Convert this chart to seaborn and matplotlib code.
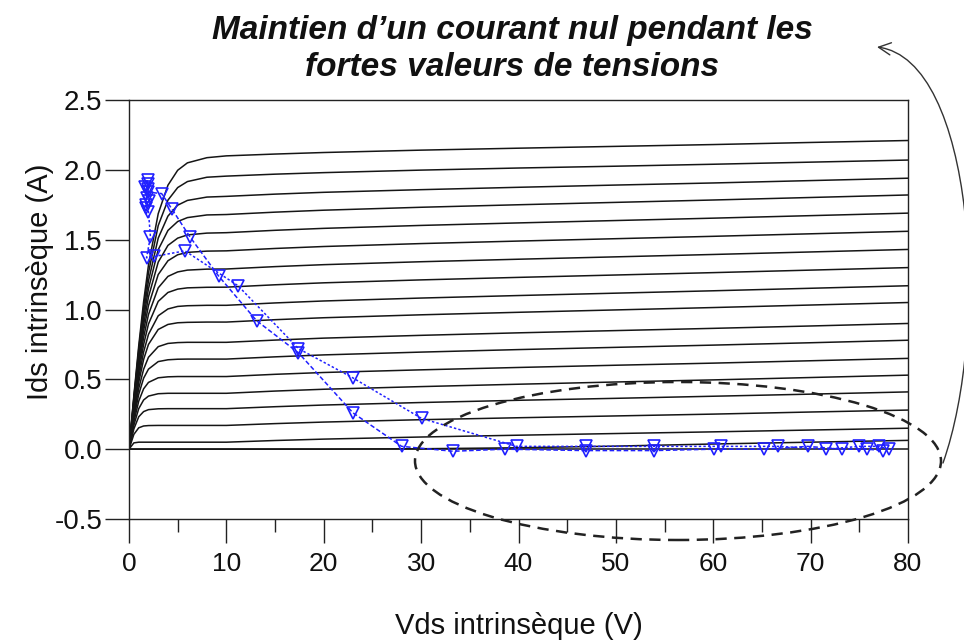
import matplotlib
matplotlib.use("Agg")
import matplotlib.pyplot as plt
import pandas as pd
import seaborn as sns
from matplotlib.patches import Ellipse, FancyArrowPatch
from matplotlib.path import Path

# ---------------- data ----------------
vds_grid = [0, 0.5, 1, 1.5, 2, 3, 4, 5, 6, 8, 10, 15, 20, 30, 40, 50, 60, 70, 80]

ids_curves = [
    [0, 0.383, 0.741, 1.056, 1.318, 1.686, 1.890, 1.997, 2.050, 2.087, 2.100, 2.113, 2.124, 2.141, 2.155, 2.168, 2.181, 2.196, 2.210],
    [0, 0.371, 0.717, 1.017, 1.263, 1.601, 1.783, 1.873, 1.916, 1.947, 1.955, 1.969, 1.980, 1.998, 2.013, 2.026, 2.040, 2.055, 2.070],
    [0, 0.358, 0.691, 0.974, 1.205, 1.511, 1.669, 1.747, 1.781, 1.805, 1.810, 1.826, 1.839, 1.858, 1.875, 1.891, 1.906, 1.923, 1.940],
    [0, 0.346, 0.664, 0.934, 1.149, 1.428, 1.566, 1.630, 1.658, 1.677, 1.680, 1.697, 1.711, 1.732, 1.750, 1.767, 1.784, 1.802, 1.820],
    [0, 0.333, 0.637, 0.891, 1.090, 1.339, 1.459, 1.511, 1.534, 1.547, 1.550, 1.567, 1.581, 1.602, 1.620, 1.637, 1.654, 1.672, 1.690],
    [0, 0.320, 0.609, 0.848, 1.028, 1.250, 1.349, 1.392, 1.409, 1.418, 1.420, 1.437, 1.451, 1.472, 1.490, 1.507, 1.524, 1.542, 1.560],
    [0, 0.306, 0.579, 0.800, 0.964, 1.155, 1.237, 1.269, 1.282, 1.289, 1.290, 1.307, 1.321, 1.342, 1.360, 1.377, 1.394, 1.412, 1.430],
    [0, 0.291, 0.548, 0.749, 0.896, 1.058, 1.122, 1.146, 1.155, 1.159, 1.160, 1.177, 1.191, 1.212, 1.230, 1.247, 1.264, 1.282, 1.300],
    [0, 0.274, 0.513, 0.695, 0.822, 0.955, 1.004, 1.022, 1.027, 1.030, 1.030, 1.047, 1.061, 1.082, 1.100, 1.117, 1.134, 1.152, 1.170],
    [0, 0.258, 0.479, 0.642, 0.750, 0.857, 0.893, 0.905, 0.908, 0.910, 0.910, 0.927, 0.941, 0.962, 0.980, 0.997, 1.014, 1.032, 1.050],
    [0, 0.239, 0.435, 0.572, 0.658, 0.734, 0.757, 0.763, 0.765, 0.765, 0.765, 0.781, 0.795, 0.815, 0.833, 0.849, 0.865, 0.882, 0.900],
    [0, 0.220, 0.393, 0.508, 0.573, 0.627, 0.640, 0.644, 0.645, 0.645, 0.645, 0.661, 0.675, 0.695, 0.713, 0.729, 0.745, 0.762, 0.780],
    [0, 0.196, 0.344, 0.432, 0.478, 0.511, 0.518, 0.520, 0.520, 0.520, 0.520, 0.536, 0.549, 0.568, 0.585, 0.601, 0.616, 0.633, 0.650],
    [0, 0.172, 0.290, 0.352, 0.380, 0.397, 0.400, 0.400, 0.400, 0.400, 0.400, 0.416, 0.429, 0.448, 0.465, 0.481, 0.496, 0.513, 0.530],
    [0, 0.145, 0.232, 0.269, 0.283, 0.289, 0.290, 0.290, 0.290, 0.290, 0.290, 0.304, 0.316, 0.334, 0.350, 0.364, 0.379, 0.394, 0.410],
    [0, 0.106, 0.153, 0.166, 0.169, 0.170, 0.170, 0.170, 0.170, 0.170, 0.170, 0.183, 0.194, 0.211, 0.225, 0.238, 0.251, 0.266, 0.280],
    [0, 0.045, 0.050, 0.050, 0.050, 0.050, 0.050, 0.050, 0.050, 0.050, 0.050, 0.062, 0.072, 0.087, 0.100, 0.112, 0.124, 0.137, 0.150],
    [0, 0, 0, 0, 0, 0, 0, 0, 0, 0, 0, 0, 0, 0.003, 0.010, 0.022, 0.037, 0.050, 0.063],
    [0, 0, 0, 0, 0, 0, 0, 0, 0, 0, 0, 0, 0, 0, 0, 0, 0, 0, 0],
]

# load cycle, first branch (falling)
cycle_a_vds = [1.9, 2.0, 3.35, 4.4, 6.26, 9.2, 13.1, 17.4, 23.0, 28.0, 33.3, 38.6,
               46.9, 53.9, 60.1, 65.2, 69.7, 73.2, 75.8, 77.4]
cycle_a_ids = [1.86, 1.84, 1.83, 1.72, 1.52, 1.24, 0.92, 0.69, 0.26, 0.02, -0.015, 0.0,
               -0.01, -0.01, 0.0, 0.0, 0.02, 0.0, 0.0, -0.01]
# load cycle, second branch (return)
cycle_b_vds = [78.0, 77.0, 75.0, 71.6, 66.7, 60.8, 53.9, 46.9, 39.8, 30.05, 23.0, 17.4,
               11.2, 5.75, 2.6, 1.8, 2.2, 2.0, 1.7, 1.8, 1.6, 1.9, 2.1, 1.7, 1.9]
cycle_b_ids = [0.0, 0.02, 0.02, 0.0, 0.02, 0.02, 0.02, 0.02, 0.02, 0.22, 0.51, 0.72,
               1.17, 1.42, 1.38, 1.37, 1.52, 1.70, 1.75, 1.80, 1.88, 1.93, 1.78, 1.73, 1.90]

xticks = [0, 10, 20, 30, 40, 50, 60, 70, 80]
xminor = [5, 15, 25, 35, 45, 55, 65, 75]
yticks = [-0.5, 0.0, 0.5, 1.0, 1.5, 2.0, 2.5]
ytick_labels = ["-0.5", "0.0", "0.5", "1.0", "1.5", "2.0", "2.5"]
title_lines = ["Maintien d\u2019un courant nul pendant les", "fortes valeurs de tensions"]
xlabel = "Vds intrins\u00e8que (V)"
ylabel = "Ids intrins\u00e8que (A)"

# ---------------- style ----------------
sns.set_style("ticks")
plt.rcParams["font.family"] = ["Liberation Sans", "DejaVu Sans"]
plt.rcParams["axes.unicode_minus"] = False

W, H = 964, 644
fig = plt.figure(figsize=(W / 100, H / 100), dpi=100)
ax = fig.add_axes([129 / W, 1 - 519 / H, 779 / W, 419 / H])

rows = []
for k, curve in enumerate(ids_curves):
    for v, i in zip(vds_grid, curve):
        rows.append((k, v, i))
df = pd.DataFrame(rows, columns=["curve", "Vds", "Ids"])

sns.lineplot(data=df, x="Vds", y="Ids", units="curve", estimator=None, sort=False,
             color="#151515", lw=1.1, ax=ax, legend=False)

blue = "#2020ff"
sns.lineplot(x=cycle_a_vds, y=cycle_a_ids, sort=False, estimator=None, ax=ax,
             color=blue, lw=1.1, linestyle=(0, (3.0, 1.6)), marker="v", markersize=8.5,
             markerfacecolor="none", markeredgecolor=blue, markeredgewidth=1.2)
sns.lineplot(x=cycle_b_vds, y=cycle_b_ids, sort=False, estimator=None, ax=ax,
             color=blue, lw=1.1, linestyle=(0, (1.6, 1.4)), marker="v", markersize=8.5,
             markerfacecolor="none", markeredgecolor=blue, markeredgewidth=1.2)

ax.set_xlim(0, 80)
ax.set_ylim(-0.5, 2.5)
ax.set_xticks(xticks)
ax.set_xticklabels([str(t) for t in xticks])
ax.set_xticks(xminor, minor=True)
ax.set_yticks(yticks)
ax.set_yticklabels(ytick_labels)
for s in ax.spines.values():
    s.set_visible(True)
    s.set_linewidth(1.0)
    s.set_color("#222222")
ax.tick_params(axis="x", which="major", direction="out", length=17, width=1.0,
               colors="#222222", labelsize=19, pad=7)
ax.tick_params(axis="x", which="minor", direction="out", length=9, width=1.0, colors="#222222")
ax.tick_params(axis="y", which="major", direction="out", length=17, width=1.0,
               colors="#222222", labelsize=20, pad=2)
ax.tick_params(labelcolor="#111111")

ax.set_xlabel(xlabel, fontsize=21, color="#111111")
ax.set_ylabel(ylabel, fontsize=21, color="#111111")
ax.xaxis.set_label_coords(0.5, -0.222)
ax.yaxis.set_label_coords(-0.096, 0.565)

# title annotation
fig.text(512 / W, 1 - 30 / H, title_lines[0], ha="center", va="center",
         fontsize=24, fontweight="bold", fontstyle="italic", color="#111111")
fig.text(512 / W, 1 - 68 / H, title_lines[1], ha="center", va="center",
         fontsize=24, fontweight="bold", fontstyle="italic", color="#111111")

# dashed ellipse around the zero-current region
ell = Ellipse((678 / W, 1 - 461 / H), 526 / W, 158 / H, transform=fig.transFigure,
              fill=False, ec="#222222", lw=1.8, ls=(0, (4.5, 3.0)), zorder=5)
fig.add_artist(ell)

# curved arrow towards the annotation
pts = [(943, 463), (990, 330), (975, 60), (877, 47)]
path = Path([(x / W, 1 - y / H) for x, y in pts],
            [Path.MOVETO, Path.CURVE4, Path.CURVE4, Path.CURVE4])
arrow = FancyArrowPatch(path=path, transform=fig.transFigure, arrowstyle="->",
                        mutation_scale=22, lw=1.0, color="#333333", zorder=5)
fig.add_artist(arrow)

fig.savefig("out.png", dpi=100)
